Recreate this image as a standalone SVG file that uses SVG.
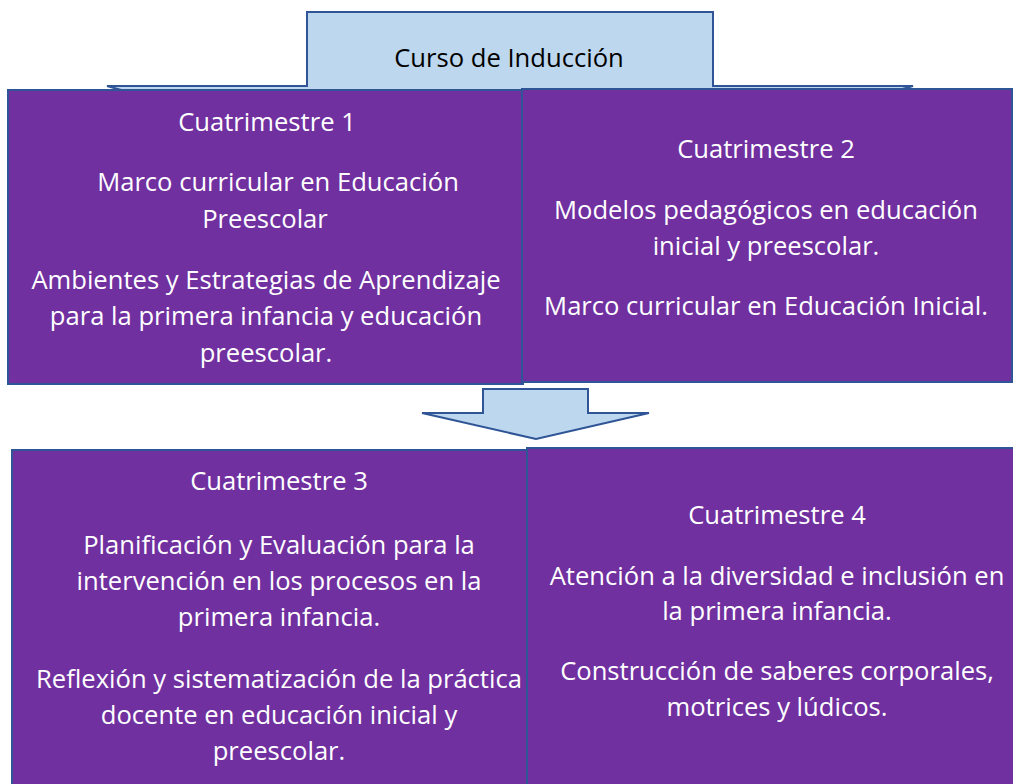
<svg xmlns="http://www.w3.org/2000/svg" width="1013" height="784" viewBox="0 0 1013 784">
<style>
.box{fill:#7030A0;stroke:#2F5597;stroke-width:2}
.arrow{fill:#BDD7EE;stroke:#2F5597;stroke-width:2;stroke-linejoin:miter}
.t{font-family:"Open Sans","Liberation Sans",Arial,sans-serif;font-size:25.6px;fill:#FFFFFF;text-anchor:middle}
.ta{font-family:"Open Sans","Liberation Sans",Arial,sans-serif;font-size:25.6px;fill:#000000;text-anchor:middle}
</style>
<rect width="1013" height="784" fill="#FFFFFF"/>
<g id="connectors">
<polygon class="arrow" points="307,12 713,12 713,86 913,86 510,200 107,86 307,86"/>
<polygon class="arrow" points="483,389 588,389 588,413 649,413 536,439 422,413 483,413"/>
</g>
<g id="induccion">
<text class="ta" x="509" y="67">Curso de Inducción</text>
</g>
<g id="cuatrimestre1">
<rect class="box" x="8" y="90" width="515" height="294"/>
<text class="t" x="267" y="131">Cuatrimestre 1</text>
<text class="t" x="278" y="191">Marco curricular en Educación</text>
<text class="t" x="265" y="228">Preescolar</text>
<text class="t" x="266" y="289">Ambientes y Estrategias de Aprendizaje</text>
<text class="t" x="266" y="325">para la primera infancia y educación</text>
<text class="t" x="266" y="362">preescolar.</text>
</g>
<g id="cuatrimestre2">
<rect class="box" x="522" y="89" width="490" height="293"/>
<text class="t" x="766" y="158">Cuatrimestre 2</text>
<text class="t" x="766" y="219">Modelos pedagógicos en educación</text>
<text class="t" x="766" y="255">inicial y preescolar.</text>
<text class="t" x="766" y="315">Marco curricular en Educación Inicial.</text>
</g>
<g id="cuatrimestre3">
<rect class="box" x="12" y="450" width="515" height="340"/>
<text class="t" x="279" y="490">Cuatrimestre 3</text>
<text class="t" x="279" y="554">Planificación y Evaluación para la</text>
<text class="t" x="279" y="590">intervención en los procesos en la</text>
<text class="t" x="279" y="626">primera infancia.</text>
<text class="t" x="279" y="688">Reflexión y sistematización de la práctica</text>
<text class="t" x="279" y="724">docente en educación inicial y</text>
<text class="t" x="279" y="760">preescolar.</text>
</g>
<g id="cuatrimestre4">
<rect class="box" x="527" y="448" width="490" height="340"/>
<text class="t" x="777" y="524">Cuatrimestre 4</text>
<text class="t" x="777" y="585">Atención a la diversidad e inclusión en</text>
<text class="t" x="777" y="620">la primera infancia.</text>
<text class="t" x="777" y="680">Construcción de saberes corporales,</text>
<text class="t" x="777" y="716">motrices y lúdicos.</text>
</g>
</svg>
